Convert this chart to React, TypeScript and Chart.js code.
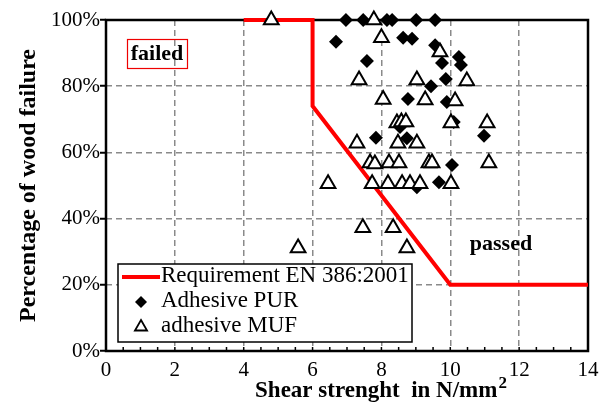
import { useEffect, useRef } from "react";
import { Chart, registerables } from "chart.js";
Chart.register(...registerables);

const xTickValues = [0, 2, 4, 6, 8, 10, 12, 14];
const yTickValues = [0, 20, 40, 60, 80, 100];

const requirementX = [4, 6, 6, 10, 14];
const requirementY = [100, 100, 74, 20, 20];

const purX = [6.97, 7.47, 8.16, 8.31, 9.01, 9.56, 6.68, 7.58, 8.63, 8.89, 9.56, 9.76, 10.25, 10.31, 9.44, 9.87, 8.77, 9.9, 8.54, 10.1, 10.98, 7.84, 8.74, 10.05, 9.03, 9.67];
const purY = [100, 100, 100, 100, 100, 100, 93.4, 87.6, 94.6, 94.3, 92.4, 87, 88.8, 86.4, 80, 82.2, 76.1, 75.2, 67.7, 69.2, 65, 64.4, 64.3, 56.2, 49.5, 51];

const mufX = [4.8, 7.78, 8.0, 9.7, 9.03, 10.48, 7.35, 8.05, 9.27, 10.14, 8.45, 8.58, 8.71, 10.02, 11.07, 7.29, 8.48, 9.03, 9.38, 9.47, 11.12, 7.67, 7.81, 8.22, 8.51, 6.45, 7.73, 8.19, 8.6, 8.83, 9.12, 10.02, 7.46, 8.34, 5.58, 8.74];
const mufY = [100, 100, 94.6, 90.3, 81.9, 81.6, 81.9, 76, 75.8, 75.5, 68.9, 69.2, 69.2, 68.9, 68.9, 62.8, 62.8, 62.8, 56.8, 56.8, 56.8, 56.8, 56.5, 56.8, 56.8, 50.5, 50.5, 50.5, 50.5, 50.5, 50.5, 50.5, 37.2, 37.2, 31.1, 31.1];

const legendLabels = ["Requirement EN 386:2001", "Adhesive PUR", "adhesive MUF"];
const xTitle = "Shear strenght  in N/mm";
const xTitleSup = "2";
const yTitle = "Percentage of wood failure";
const failedText = "failed";
const passedText = "passed";

const SERIF = "'Liberation Serif', 'Times New Roman', serif";

const toPoints = (xs: number[], ys: number[]) => xs.map((x, i) => ({ x, y: ys[i] }));

export default function App() {
  const ref = useRef<HTMLCanvasElement | null>(null);

  useEffect(() => {
    if (!ref.current) return;
    const decor = {
      id: "decor",
      beforeDatasetsDraw(chart: any) {
        const { ctx, chartArea: a, scales } = chart;
        ctx.save();
        ctx.strokeStyle = "#000";
        ctx.lineWidth = 1.5;
        for (let v = 0; v <= 14.001; v += 0.5) {
          const px = scales.x.getPixelForValue(v);
          ctx.beginPath();
          ctx.moveTo(px, a.bottom);
          ctx.lineTo(px, a.bottom - 4);
          ctx.stroke();
        }
        ctx.lineWidth = 2.5;
        ctx.strokeRect(a.left, a.top, a.right - a.left, a.bottom - a.top);
        ctx.restore();
      },
      afterDraw(chart: any) {
        const { ctx, chartArea: a } = chart;
        ctx.save();
        ctx.fillStyle = "#000";
        // y title
        ctx.font = `bold 24px ${SERIF}`;
        ctx.save();
        ctx.translate(29, (a.top + a.bottom) / 2);
        ctx.rotate(-Math.PI / 2);
        ctx.textAlign = "center";
        ctx.textBaseline = "middle";
        ctx.fillText(yTitle, 0, 0);
        ctx.restore();
        // x title
        ctx.font = `bold 23px ${SERIF}`;
        const w1 = ctx.measureText(xTitle).width;
        ctx.font = `bold 17px ${SERIF}`;
        const w2 = ctx.measureText(xTitleSup).width;
        const start = 380.5 - (w1 + w2) / 2;
        ctx.textAlign = "left";
        ctx.textBaseline = "alphabetic";
        ctx.font = `bold 23px ${SERIF}`;
        ctx.fillText(xTitle, start, 397);
        ctx.font = `bold 17px ${SERIF}`;
        ctx.fillText(xTitleSup, start + w1 + 1, 388);

        // failed / passed
        ctx.font = `bold 22px ${SERIF}`;
        ctx.textAlign = "center";
        ctx.textBaseline = "middle";
        ctx.fillText(failedText, 157, 54);
        ctx.strokeStyle = "#e00";
        ctx.lineWidth = 1.2;
        ctx.strokeRect(127.5, 39.5, 60, 29);
        ctx.fillText(passedText, 501, 244);

        // legend
        const lx = 118, ly = 264, lw = 294, lh = 78;
        ctx.fillStyle = "#fff";
        ctx.fillRect(lx, ly, lw, lh);
        ctx.strokeStyle = "#000";
        ctx.lineWidth = 1.5;
        ctx.strokeRect(lx, ly, lw, lh);
        const rowsY = [277, 302, 327];
        ctx.strokeStyle = "#ff0000";
        ctx.lineWidth = 4;
        ctx.beginPath();
        ctx.moveTo(122, rowsY[0]);
        ctx.lineTo(160, rowsY[0]);
        ctx.stroke();
        ctx.fillStyle = "#000";
        ctx.beginPath();
        const dx = 141, dy = rowsY[1], r = 6;
        ctx.moveTo(dx - r, dy);
        ctx.lineTo(dx, dy - r);
        ctx.lineTo(dx + r, dy);
        ctx.lineTo(dx, dy + r);
        ctx.closePath();
        ctx.fill();
        const tx = 141, ty = rowsY[2], tr = 7;
        ctx.beginPath();
        ctx.moveTo(tx, ty - tr);
        ctx.lineTo(tx + tr * 0.866, ty + tr / 2);
        ctx.lineTo(tx - tr * 0.866, ty + tr / 2);
        ctx.closePath();
        ctx.fillStyle = "#fff";
        ctx.fill();
        ctx.strokeStyle = "#000";
        ctx.lineWidth = 1.8;
        ctx.stroke();
        ctx.fillStyle = "#000";
        ctx.font = `23px ${SERIF}`;
        ctx.textAlign = "left";
        ctx.textBaseline = "alphabetic";
        legendLabels.forEach((t, i) => {
          ctx.fillText(t, 161, rowsY[i] + 5);
        });
        ctx.restore();
      },
    };

    const chart = new Chart(ref.current, {
      type: "scatter",
      data: {
        datasets: [
          {
            label: legendLabels[2],
            data: toPoints(mufX, mufY),
            pointStyle: "triangle",
            pointRadius: 8.5,
            pointBackgroundColor: "#fff",
            pointBorderColor: "#000",
            pointBorderWidth: 2,
            order: 1,
            clip: false,
          } as any,
          {
            label: legendLabels[1],
            data: toPoints(purX, purY),
            pointStyle: "rectRot",
            pointRadius: 7,
            pointBackgroundColor: "#000",
            pointBorderColor: "#000",
            pointBorderWidth: 0,
            order: 2,
            clip: false,
          } as any,
          {
            label: legendLabels[0],
            data: toPoints(requirementX, requirementY),
            showLine: true,
            borderColor: "#ff0000",
            borderWidth: 4,
            pointRadius: 0,
            fill: false,
            order: 3,
            clip: false,
          } as any,
        ],
      },
      options: {
        responsive: false,
        animation: false,
        events: [],
        layout: { padding: { left: 0, top: 20, right: 24, bottom: 0 } },
        plugins: { legend: { display: false }, tooltip: { enabled: false } },
        scales: {
          x: {
            type: "linear",
            min: 0,
            max: 14,
            afterFit: (axis: any) => {
              axis.height = 405 - 351;
            },
            afterBuildTicks: (axis: any) => {
              axis.ticks = xTickValues.map((v) => ({ value: v }));
            },
            ticks: {
              padding: 7,
              color: "#000",
              font: { family: SERIF, size: 21 },
            },
            grid: {
              drawTicks: false,
              lineWidth: 1.5,
              color: (c: any) => (c.tick && (c.tick.value === 0 || c.tick.value === 14) ? "rgba(0,0,0,0)" : "#8a8a8a"),
            },
            border: { display: false, dash: [6, 4] },
          },
          y: {
            type: "linear",
            min: 0,
            max: 100,
            afterFit: (axis: any) => {
              axis.width = 106;
            },
            afterBuildTicks: (axis: any) => {
              axis.ticks = yTickValues.map((v) => ({ value: v }));
            },
            ticks: {
              padding: 0,
              color: "#000",
              font: { family: SERIF, size: 21 },
              callback: (v: any) => `${v}%`,
            },
            grid: {
              drawTicks: true,
              tickLength: 6,
              tickColor: "#000",
              tickWidth: 2,
              lineWidth: 1.5,
              color: (c: any) => (c.tick && (c.tick.value === 0 || c.tick.value === 100) ? "rgba(0,0,0,0)" : "#8a8a8a"),
            },
            border: { display: false, dash: [6, 4] },
          },
        },
      },
      plugins: [decor],
    });
    return () => chart.destroy();
  }, []);

  return (
    <div style={{ position: "absolute", left: 0, top: 0, width: 612, height: 405, background: "#fff" }}>
      <canvas ref={ref} width={612} height={405} style={{ display: "block" }} />
    </div>
  );
}
